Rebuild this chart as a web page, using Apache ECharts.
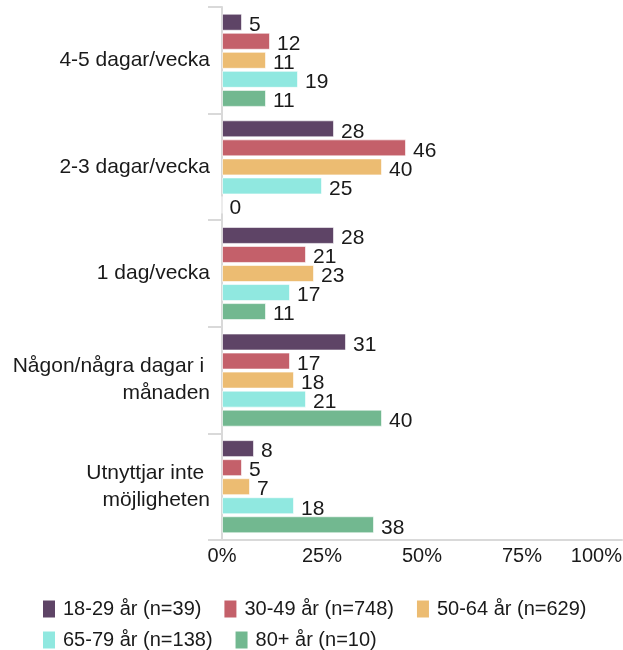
<!DOCTYPE html>
<html>
<head>
<meta charset="utf-8">
<script src="https://cdn.jsdelivr.net/npm/echarts@6/dist/echarts.min.js"></script>
<style>
html, body { margin: 0; padding: 0; background: #fff; }
#chart { width: 623px; height: 650px; }
</style>
</head>
<body>
<div id="chart"></div>
<script>
var categories = ['4-5 dagar/vecka', '2-3 dagar/vecka', '1 dag/vecka', 'Någon/några dagar i \nmånaden', 'Utnyttjar inte \nmöjligheten'];
var seriesNames = ['18-29 år (n=39)', '30-49 år (n=748)', '50-64 år (n=629)', '65-79 år (n=138)', '80+ år (n=10)'];
var colors = ['#5e4466', '#c4606a', '#ecbc72', '#90e8e0', '#72b890'];
var age1829 = [5, 28, 28, 31, 8];
var age3049 = [12, 46, 21, 17, 5];
var age5064 = [11, 40, 23, 18, 7];
var age6579 = [19, 25, 17, 21, 18];
var age80 = [11, 0, 11, 40, 38];
var xTicks = [0, 25, 50, 75, 100];

var chart = echarts.init(document.getElementById('chart'));
var font = 'Liberation Sans, Arial, sans-serif';
var allData = [age1829, age3049, age5064, age6579, age80];

var series = allData.map(function (d, i) {
    return {
        name: seriesNames[i],
        type: 'bar',
        data: d,
        barWidth: 17,
        barGap: '12%',
        itemStyle: { color: colors[i], borderColor: 'rgba(255,255,255,0.6)', borderWidth: 1 },
        label: {
            show: true,
            position: 'right',
            distance: 7,
            offset: [0, 3],
            color: '#1a1a1a',
            fontSize: 21,
            fontFamily: font
        }
    };
});

function makeLegend(names, top) {
    return {
        data: names,
        left: 38,
        top: top,
        orient: 'horizontal',
        icon: 'rect',
        itemWidth: 12,
        itemHeight: 17,
        itemGap: 23,
        itemStyle: { borderWidth: 0 },
        textStyle: { color: '#1a1a1a', fontSize: 20, fontFamily: font, padding: [0, 0, 0, 3] }
    };
}

var option = {
    color: colors,
    animation: false,
    grid: { left: 222, right: 1, top: 7, bottom: 110, outerBoundsMode: 'none' },
    legend: [makeLegend(seriesNames.slice(0, 3), 594), makeLegend(seriesNames.slice(3), 625)],
    xAxis: {
        type: 'value',
        min: 0,
        max: 100,
        interval: 25,
        axisLine: { show: true, lineStyle: { color: '#d9d9d9', width: 2 } },
        axisTick: { show: false },
        splitLine: { show: false },
        axisLabel: {
            formatter: function (v) { return xTicks.indexOf(v) >= 0 ? v + '%' : ''; },
            color: '#1a1a1a',
            fontSize: 20,
            fontFamily: font,
            margin: 6,
            alignMaxLabel: 'right'
        }
    },
    yAxis: {
        type: 'category',
        inverse: true,
        data: categories,
        axisLine: { show: true, lineStyle: { color: '#d9d9d9', width: 2 } },
        axisTick: { show: true, length: 14, lineStyle: { color: '#d9d9d9', width: 2 } },
        axisLabel: {
            color: '#1a1a1a',
            fontSize: 21,
            fontFamily: font,
            margin: 12,
            lineHeight: 27,
            padding: [6, 0, 0, 0],
            align: 'right'
        }
    },
    series: series
};
chart.setOption(option);
</script>
</body>
</html>
